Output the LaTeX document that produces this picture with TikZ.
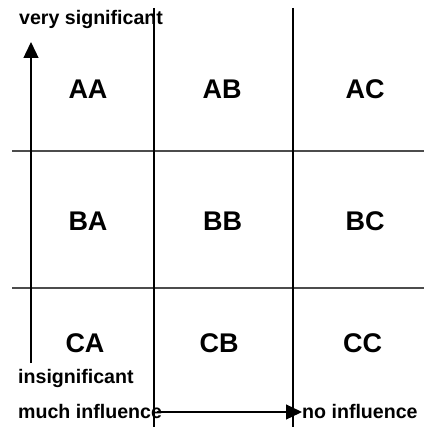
\documentclass[tikz,border=0pt]{standalone}
\usepackage{fontspec}
\setmainfont{Liberation Sans}
\usetikzlibrary{arrows,arrows.meta,positioning}
\tikzset{cell/.style={anchor=base, inner sep=0pt, font=\fontsize{27}{30}\selectfont\bfseries},
  axislabel/.style={anchor=base west, inner sep=0pt, font=\fontsize{19.6}{22}\selectfont\bfseries},
  gridline/.style={line width=1.3pt, draw=black!70},
  axis/.style={line width=1.3pt, -{Triangle[length=16pt,width=15pt]}}}

\begin{document}
\begin{tikzpicture}[x=1pt, y=-1pt]
    \useasboundingbox (0,0) rectangle (424,427);
    \draw[gridline] (12,151) -- (424,151);
    \draw[gridline] (12,288) -- (424,288);
    \draw[line width=1.1pt] (154,8) -- (154,427);
    \draw[line width=1.1pt] (293,8) -- (293,427);
    \node[cell] (AA) at (88,98.5) {AA};
    \node[cell] (AB) at (222,98.5) {AB};
    \node[cell] (AC) at (365,98.5) {AC};
    \node[cell] (BA) at (88,230.5) {BA};
    \node[cell] (BB) at (222.5,230.5) {BB};
    \node[cell] (BC) at (365,230.5) {BC};
    \node[cell] (CA) at (85,352.5) {CA};
    \node[cell] (CB) at (219,352.5) {CB};
    \node[cell] (CC) at (362.5,352.5) {CC};
    \node[axislabel] (top) at (19,25) {very significant};
    \node[axislabel] (bottom) at (18,383) {insignificant};
    \node[axislabel] (much) at (18,418) {much influence};
    \node[axislabel] (none) at (302,418) {no influence};
    \coordinate (ylow) at (31,363);
    \coordinate (yhigh) at (31,42);
    \coordinate (xleft) at (157,412);
    \coordinate (xright) at (302,412);
    \draw[axis] (ylow) -- (yhigh);
    \draw[axis] (xleft) -- (xright);
\end{tikzpicture}
\end{document}
